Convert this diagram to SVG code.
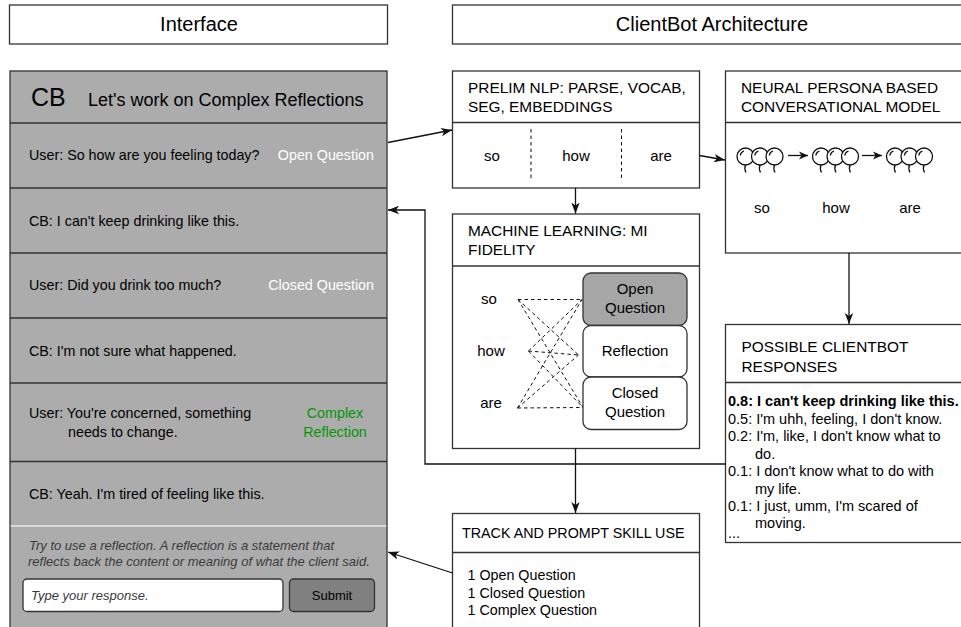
<svg xmlns="http://www.w3.org/2000/svg" xmlns:xlink="http://www.w3.org/1999/xlink" width="961" height="627" viewBox="0 0 961 627">
<style>
text{font-family:"Liberation Sans",Arial,Helvetica,sans-serif;fill:#000}
.box{fill:#fff;stroke:#333;stroke-width:1.3}
.row{fill:#acacac;stroke:#333;stroke-width:1.3}
.div{stroke:#333;stroke-width:1.3;fill:none}
.hd{font-size:20px;text-anchor:middle}
.t14{font-size:14.3px}
.r14{font-size:14.5px}
.t15{font-size:15px}
.cap{font-size:15.4px}
.mid{text-anchor:middle}
.end{text-anchor:end}
.wl{fill:#fff}
.gr{fill:#009900}
.it{font-style:italic;fill:#3a3a3a;font-size:13px}
.conn{stroke:#111;stroke-width:1.3;fill:none}
.dash{stroke:#111;stroke-width:1;stroke-dasharray:3.5 3;fill:none}
.bal{fill:#fff;stroke:#111;stroke-width:1.3}
</style>
<defs>
<marker id="arr" markerUnits="userSpaceOnUse" markerWidth="12" markerHeight="10" refX="11" refY="5" orient="auto">
<path d="M0,0.8 L11,5 L0,9.2 L3,5 Z" fill="#111"/>
</marker>
<marker id="sarr" markerUnits="userSpaceOnUse" markerWidth="10" markerHeight="9" refX="9" refY="4.5" orient="auto">
<path d="M0,0.5 L9,4.5 L0,8.5 L2.5,4.5 Z" fill="#111"/>
</marker>
<g id="balloon">
<path d="M0,8.5 q-1.5,3.5 0.5,7.5" class="conn" stroke-width="1"/>
<circle cx="0" cy="0" r="8.5" class="bal"/>
<path d="M-5.2,-1 A5.5,5.5 0 0 1 -1.5,-5.5" class="conn" stroke-width="1.2"/>
</g>
<g id="trio">
<use xlink:href="#balloon" x="0" y="0"/>
<use xlink:href="#balloon" x="14.5" y="0"/>
<use xlink:href="#balloon" x="29" y="0"/>
</g>
</defs>

<g id="interface-title">
<rect x="9.5" y="5" width="378" height="39" class="box"/>
<text x="199" y="31" class="hd">Interface</text>
</g>
<g id="architecture-title">
<rect x="452.5" y="5" width="520" height="39" class="box"/>
<text x="712" y="31" class="hd">ClientBot Architecture</text>
</g>

<g id="interface-panel">
<rect x="10" y="71" width="377" height="570" class="row"/>
<g id="chat-header">
<text x="31" y="106" font-size="25px">CB</text>
<text x="88" y="106" font-size="18px">Let's work on Complex Reflections</text>
</g>
<line x1="10" y1="123" x2="387" y2="123" class="div"/>
<g id="msg-1">
<text x="29" y="160" class="t14">User: So how are you feeling today?</text>
<text x="374" y="160" class="t14 end wl">Open Question</text>
</g>
<line x1="10" y1="188" x2="387" y2="188" class="div"/>
<g id="msg-2">
<text x="29" y="226" class="t14">CB: I can't keep drinking like this.</text>
</g>
<line x1="10" y1="253" x2="387" y2="253" class="div"/>
<g id="msg-3">
<text x="29" y="290" class="t14">User: Did you drink too much?</text>
<text x="374" y="290" class="t14 end wl">Closed Question</text>
</g>
<line x1="10" y1="318" x2="387" y2="318" class="div"/>
<g id="msg-4">
<text x="29" y="356" class="t14">CB: I'm not sure what happened.</text>
</g>
<line x1="10" y1="383" x2="387" y2="383" class="div"/>
<g id="msg-5">
<text x="29" y="418" class="t14">User: You're concerned, something</text>
<text x="68" y="437" class="t14">needs to change.</text>
<text x="335" y="418" class="t14 mid gr">Complex</text>
<text x="335" y="437" class="t14 mid gr">Reflection</text>
</g>
<line x1="10" y1="461.5" x2="387" y2="461.5" class="div"/>
<g id="msg-6">
<text x="29" y="499" class="t14">CB: Yeah. I'm tired of feeling like this.</text>
</g>
<line x1="10.7" y1="526" x2="386.3" y2="526" stroke="#e8e8e8" stroke-width="1.5"/>
<g id="prompt">
<text x="29" y="550" class="it">Try to use a reflection. A reflection is a statement that</text>
<text x="28" y="566" class="it">reflects back the content or meaning of what the client said.</text>
</g>
<g id="response-input">
<rect x="23" y="579" width="260" height="32.5" rx="4" fill="#fff" stroke="#333" stroke-width="1.3"/>
<text x="31" y="600" class="it" font-size="12.5px" fill="#333">Type your response.</text>
</g>
<g id="submit-button">
<rect x="289.5" y="579" width="85" height="32.5" rx="4" fill="#808080" stroke="#333" stroke-width="1.3"/>
<text x="332" y="600" font-size="13px" class="mid">Submit</text>
</g>
</g>

<g id="prelim-nlp">
<rect x="452.5" y="71" width="247" height="117" class="box"/>
<line x1="452.5" y1="122.5" x2="699.5" y2="122.5" class="div"/>
<text x="468" y="93" class="cap">PRELIM NLP: PARSE, VOCAB,</text>
<text x="468" y="112" class="cap">SEG, EMBEDDINGS</text>
<line x1="531" y1="129" x2="531" y2="181" class="dash"/>
<line x1="621.5" y1="129" x2="621.5" y2="181" class="dash"/>
<text x="492" y="161" class="t15 mid">so</text>
<text x="576" y="161" class="t15 mid">how</text>
<text x="661" y="161" class="t15 mid">are</text>
</g>

<g id="neural-model">
<rect x="725.5" y="71" width="250" height="182" class="box"/>
<line x1="725.5" y1="122.5" x2="961" y2="122.5" class="div"/>
<text x="741" y="93" class="cap">NEURAL PERSONA BASED</text>
<text x="741" y="112" class="cap">CONVERSATIONAL MODEL</text>
<use xlink:href="#trio" x="745.5" y="156.5"/>
<use xlink:href="#trio" x="821" y="156.5"/>
<use xlink:href="#trio" x="895" y="156.5"/>
<line x1="788" y1="155.5" x2="808" y2="155.5" class="conn" marker-end="url(#sarr)"/>
<line x1="862" y1="155.5" x2="882" y2="155.5" class="conn" marker-end="url(#sarr)"/>
<text x="762" y="213" class="t15 mid">so</text>
<text x="836" y="213" class="t15 mid">how</text>
<text x="910" y="213" class="t15 mid">are</text>
</g>

<g id="ml-fidelity">
<rect x="452.5" y="214" width="247" height="234.5" class="box"/>
<line x1="452.5" y1="266" x2="699.5" y2="266" class="div"/>
<text x="468" y="236" class="cap">MACHINE LEARNING: MI</text>
<text x="468" y="255" class="cap">FIDELITY</text>
<text x="489" y="304" class="t15 mid">so</text>
<text x="491" y="356" class="t15 mid">how</text>
<text x="491" y="408" class="t15 mid">are</text>
<g id="ml-edges">
<path d="M518,299.5 L582,299.5 M518,299.5 L578.5,355 M518,299.5 L583,407.5 M528.5,351 L582,299.5 M528.5,351 L578.5,355 M528.5,351 L583,407.5 M517.5,408 L582,299.5 M517.5,408 L578.5,355 M517.5,408 L583,407.5" class="dash"/>
</g>
<g id="class-open">
<rect x="583" y="273" width="104" height="52.5" rx="8" fill="#a6a6a6" stroke="#333" stroke-width="1.3"/>
<text x="635" y="294" class="t15 mid">Open</text>
<text x="635" y="313" class="t15 mid">Question</text>
</g>
<g id="class-reflection">
<rect x="583" y="325.5" width="104" height="51.5" rx="8" fill="#fff" stroke="#333" stroke-width="1.3"/>
<text x="635" y="356" class="t15 mid">Reflection</text>
</g>
<g id="class-closed">
<rect x="583" y="377" width="104" height="52.5" rx="8" fill="#fff" stroke="#333" stroke-width="1.3"/>
<text x="635" y="398" class="t15 mid">Closed</text>
<text x="635" y="417" class="t15 mid">Question</text>
</g>
</g>

<g id="possible-responses">
<rect x="725.5" y="324.5" width="250" height="218" class="box"/>
<line x1="725.5" y1="382.5" x2="961" y2="382.5" class="div"/>
<text x="741.5" y="352" class="cap">POSSIBLE CLIENTBOT</text>
<text x="741.5" y="371.5" class="cap">RESPONSES</text>
<text x="728" y="406" class="r14" font-weight="bold">0.8: I can't keep drinking like this.</text>
<text x="728" y="423.5" class="r14">0.5: I'm uhh, feeling, I don't know.</text>
<text x="728" y="441" class="r14">0.2: I'm, like, I don't know what to</text>
<text x="755" y="458.5" class="r14">do.</text>
<text x="728" y="476" class="r14">0.1: I don't know what to do with</text>
<text x="755" y="493.5" class="r14">my life.</text>
<text x="728" y="511" class="r14">0.1: I just, umm, I'm scared of</text>
<text x="755" y="528" class="r14">moving.</text>
<text x="728" y="538" class="r14">...</text>
</g>

<g id="track-prompt">
<rect x="452.5" y="513.5" width="247" height="130" class="box"/>
<line x1="452.5" y1="552.5" x2="699.5" y2="552.5" class="div"/>
<text x="462" y="538" class="t14">TRACK AND PROMPT SKILL USE</text>
<text x="467.5" y="580" class="t14">1 Open Question</text>
<text x="467.5" y="597.5" class="t14">1 Closed Question</text>
<text x="467.5" y="615" class="t14">1 Complex Question</text>
</g>

<g id="connectors">
<line x1="388" y1="142.5" x2="452" y2="130" class="conn" marker-end="url(#arr)"/>
<line x1="699.5" y1="155.5" x2="725" y2="160" class="conn" marker-end="url(#arr)"/>
<line x1="575.5" y1="188" x2="575.5" y2="213.5" class="conn" marker-end="url(#arr)"/>
<line x1="575.5" y1="448.5" x2="575.5" y2="513" class="conn" marker-end="url(#arr)"/>
<line x1="849" y1="253" x2="849" y2="324" class="conn" marker-end="url(#arr)"/>
<path d="M725.5,464 H425 V210 H388" class="conn" marker-end="url(#arr)"/>
<line x1="452.5" y1="573" x2="388" y2="552" class="conn" marker-end="url(#arr)"/>
</g>
</svg>
